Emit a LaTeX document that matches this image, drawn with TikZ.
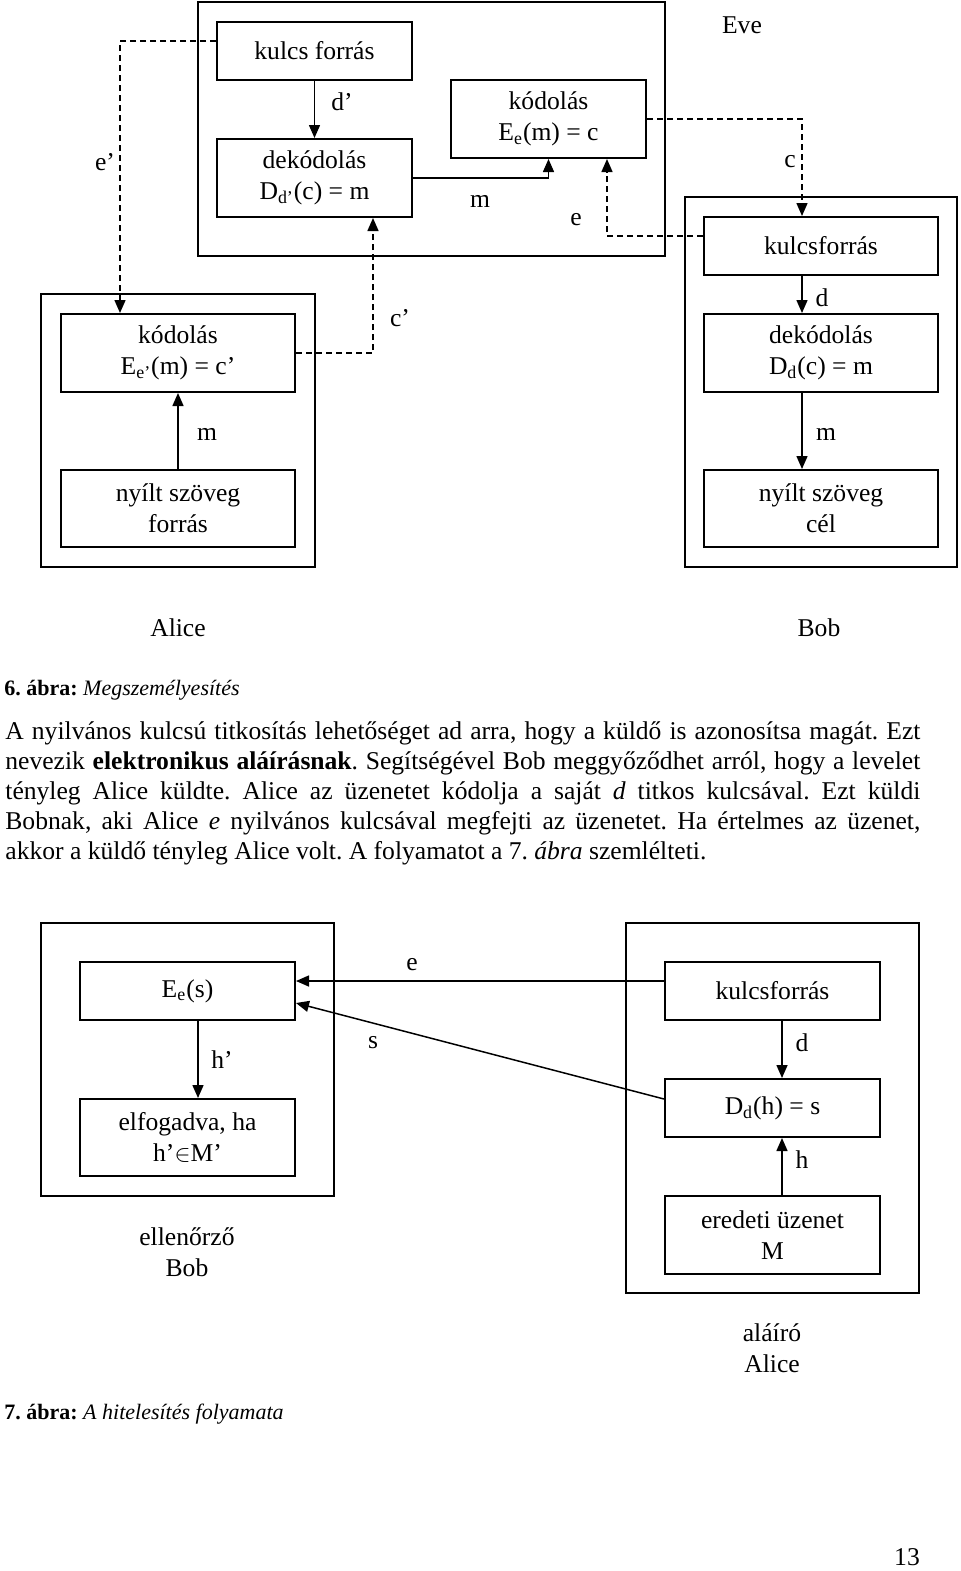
\documentclass[tikz,border=0pt]{standalone}
\usepackage{fontspec}
\setmainfont{Liberation Serif}
\usetikzlibrary{positioning,arrows.meta}
\frenchspacing

\begin{document}
\begin{tikzpicture}[x=0.5pt, y=-0.5pt,
    font=\fontsize{12.8}{15.5}\selectfont,
    box/.style 2 args={draw, line width=1pt, align=center, inner sep=0pt,
      minimum width=#1, minimum height=#2},
    frame/.style={draw, line width=1pt},
    arr/.style={-{Triangle[length=6.5pt,width=5.5pt]}, line width=0.75pt},
    dline/.style={arr, dash pattern=on 3pt off 2pt},
    captxt/.style={anchor=west, inner sep=0pt, font=\fontsize{11}{13}\selectfont},
    lbl/.style={align=center, inner sep=0pt}]
  \useasboundingbox (0,0) rectangle (960,1571);

  % Define the frames of the three parties
  \draw[frame] (198,2) rectangle (665,256);
  \draw[frame] (41,294) rectangle (315,567);
  \draw[frame] (685,197) rectangle (957,567);

  % Define the nodes inside the frames
  \node[box={97.5pt}{29pt}] (kfA) at (314.5,51) {kulcs forrás};
  \node[box={97.5pt}{39pt}] (decA) at (314.5,178) {dekódolás\\D\textsubscript{d’}(c) = m};
  \node[box={97.5pt}{39pt}] (encE) at (548.5,119) {kódolás\\E\textsubscript{e}(m) = c};
  \node[box={117pt}{29pt}] (kfB) at (821,246) {kulcsforrás};
  \node[box={117pt}{39pt}] (decB) at (821,353) {dekódolás\\D\textsubscript{d}(c) = m};
  \node[box={117pt}{38.5pt}] (ptB) at (821,508.5) {nyílt szöveg\\cél};
  \node[box={117pt}{39pt}] (encA) at (178,353) {kódolás\\E\textsubscript{e’}(m) = c’};
  \node[box={117pt}{38.5pt}] (ptA) at (178,508.5) {nyílt szöveg\\forrás};

  % Draw the arrows between the nodes
  \draw[arr] (kfA) -- (decA);
  \draw[arr] (decA.east) -| (encE.south);
  \draw[dline] ([yshift=5pt]kfB.west) -| ([xshift=29.25pt]encE.south);
  \draw[dline] (encE.east) -| ([xshift=-9.5pt]kfB.north);
  \draw[arr] ([xshift=-9.5pt]kfB.south) -- ([xshift=-9.5pt]decB.north);
  \draw[arr] ([xshift=-9.5pt]decB.south) -- ([xshift=-9.5pt]ptB.north);
  \draw[dline] ([yshift=5pt]kfA.west) -| ([xshift=-29pt]encA.north);
  \draw[dline] (encA.east) -| ([xshift=29.25pt]decA.south);
  \draw[arr] (ptA) -- (encA);

  % Labels of the arrows and the parties
  \node[lbl] (lDa) at (342,102) {d’};
  \node[lbl] (lMe) at (480,201) {m};
  \node[lbl] (lEe) at (576,220) {e};
  \node[lbl] (lCe) at (790,162) {c};
  \node[lbl] (eve) at (742,25) {Eve};
  \node[lbl] (lEa) at (105,162) {e’};
  \node[lbl] (lCa) at (400,318) {c’};
  \node[lbl] (lDb) at (822,298) {d};
  \node[lbl] (lMb) at (826,434) {m};
  \node[lbl] (lMa) at (207,434) {m};
  \node[lbl] (alice) at (178,628) {Alice};
  \node[lbl] (bob) at (819,628) {Bob};

  % Caption and text
  \node[captxt] (cap6) at (4,690) {\textbf{6. ábra:} \textit{Megszemélyesítés}};
  \node[anchor=north west, inner sep=0pt, align=left,
    font=\fontsize{12.8}{15}\selectfont] (txt) at (5,721) {%
    \makebox[457.5pt][s]{A nyilvános kulcsú titkosítás lehetőséget ad arra, hogy a küldő is azonosítsa magát. Ezt}\\
    \makebox[457.5pt][s]{nevezik \textbf{elektronikus aláírásnak}. Segítségével Bob meggyőződhet arról, hogy a levelet}\\
    \makebox[457.5pt][s]{tényleg Alice küldte. Alice az üzenetet kódolja a saját \textit{d} titkos kulcsával. Ezt küldi}\\
    \makebox[457.5pt][s]{Bobnak, aki Alice \textit{e} nyilvános kulcsával megfejti az üzenetet. Ha értelmes az üzenet,}\\
    akkor a küldő tényleg Alice volt. A folyamatot a 7. \textit{ábra} szemlélteti.};

  % Second figure: frames
  \draw[frame] (41,923) rectangle (334,1196);
  \draw[frame] (626,923) rectangle (919,1293);

  % Define the nodes of the second figure
  \node[box={107.5pt}{29pt}] (Ees) at (187.5,991) {E\textsubscript{e}(s)};
  \node[box={107.5pt}{38.5pt}] (acc) at (187.5,1137.5) {elfogadva, ha\\h’$\in$M’};
  \node[box={107.5pt}{29pt}] (kf2) at (772.5,991) {kulcsforrás};
  \node[box={107.5pt}{29pt}] (dec2) at (772.5,1108) {D\textsubscript{d}(h) = s};
  \node[box={107.5pt}{39pt}] (orig) at (772.5,1235) {eredeti üzenet\\M};

  % Draw the arrows of the second figure
  \draw[arr] ([yshift=5pt]kf2.west) -- ([yshift=5pt]Ees.east);
  \draw[arr] ([yshift=4.5pt]dec2.west) -- ([yshift=-6pt]Ees.east);
  \draw[arr] ([xshift=5.25pt]Ees.south) -- ([xshift=5.25pt]acc.north);
  \draw[arr] ([xshift=4.75pt]kf2.south) -- ([xshift=4.75pt]dec2.north);
  \draw[arr] ([xshift=4.75pt]orig.north) -- ([xshift=4.75pt]dec2.south);

  \node[lbl] (lE2) at (412,965) {e};
  \node[lbl] (lS2) at (373,1043) {s};
  \node[lbl] (lH2) at (222,1060) {h’};
  \node[lbl] (lD2) at (802,1043) {d};
  \node[lbl] (lHh) at (802,1160) {h};
  \node[lbl] (bob2) at (187,1252) {ellenőrző\\Bob};
  \node[lbl] (alice2) at (772,1348) {aláíró\\Alice};

  \node[captxt] (cap7) at (4,1414) {\textbf{7. ábra:} \textit{A hitelesítés folyamata}};
  \node[lbl] (pagenum) at (907,1557) {13};
\end{tikzpicture}
\end{document}
